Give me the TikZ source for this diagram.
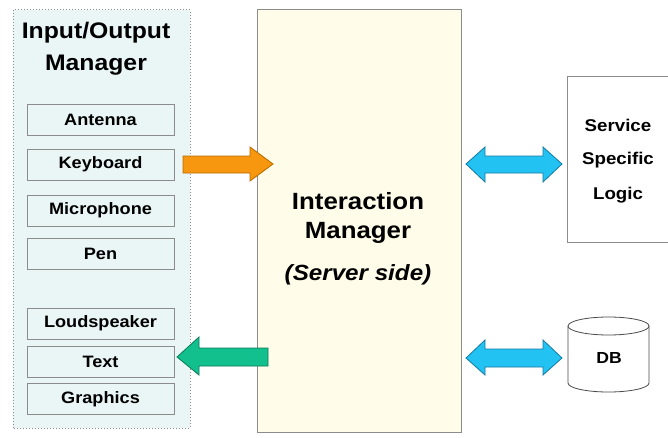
\documentclass[tikz,border=0pt]{standalone}
\usepackage{fontspec}
\setmainfont[FakeStretch=1.1]{Liberation Sans}
\usetikzlibrary{calc}
\definecolor{iofill}{HTML}{EAF6F6}
\definecolor{imfill}{HTML}{FFFDE9}
\definecolor{frame}{HTML}{8C8C8C}
\definecolor{orangeA}{HTML}{F7960F}
\definecolor{orangeE}{HTML}{B86A00}
\definecolor{greenA}{HTML}{12C08E}
\definecolor{greenE}{HTML}{0A7A58}
\definecolor{blueA}{HTML}{22C3F2}
\definecolor{blueE}{HTML}{1579A0}
\tikzset{
  x=1pt, y=1pt,
  itembox/.style={draw=frame, fill=iofill, line width=0.9pt, minimum width=147pt, minimum height=31pt, inner sep=0pt, font=\fontsize{16.5}{18}\selectfont\bfseries},
  bigtext/.style={font=\fontsize{22.5}{26}\selectfont\bfseries},
  midtext/.style={font=\fontsize{17}{20}\selectfont\bfseries},
  fatarrow/.style={line width=0.8pt, line join=miter},
}
\begin{document}
\begin{tikzpicture}
\useasboundingbox (0,0) rectangle (668,437);
\fill[white] (0,0) rectangle (668,437);

% Input/Output manager panel
\draw[frame, fill=iofill, dotted, line width=1pt] (13,9) rectangle (190,427);
\node[bigtext] (iot1) at (96,404) {Input/Output};
\node[bigtext] (iot2) at (96,372) {Manager};
\node[itembox] (ant) at (100.5,317) {Antenna};
\node[itembox] (key) at (100.5,272.5) {Keyboard};
\node[itembox] (mic) at (100.5,226.5) {Microphone};
\node[itembox] (pen) at (100.5,183) {Pen};
\node[itembox] (ls)  at (100.5,113.5) {Loudspeaker};
\node[itembox] (txt) at (100.5,75.5) {Text};
\node[itembox] (gfx) at (100.5,38) {Graphics};

% Interaction manager
\draw[frame, fill=imfill, line width=0.9pt] (257,5) rectangle (461,428);
\node[font=\fontsize{23.5}{26}\selectfont\bfseries] (im1) at (358,236) {Interaction};
\node[font=\fontsize{23.5}{26}\selectfont\bfseries] (im2) at (358,204) {Manager};
\node[font=\fontsize{22}{26}\selectfont\bfseries\itshape] (im3) at (358,162) {(Server side)};

% Service specific logic
\draw[frame, fill=white, line width=0.9pt] (567,195) rectangle (672,361);
\node[midtext] (s1) at (618,312) {Service};
\node[midtext] (s2) at (618,277) {Specific};
\node[midtext] (s3) at (618,242) {Logic};

% Database cylinder
\draw[black!70, fill=white, line width=0.8pt]
  (568,111) -- (568,54) arc[start angle=180, end angle=360, x radius=40.5, y radius=9]
  -- (649,111);
\draw[black!70, fill=white, line width=0.8pt] (608.5,111) ellipse[x radius=40.5, y radius=9];
\node[font=\fontsize{16}{18}\selectfont\bfseries] (db) at (609,79) {DB};

% Input arrow (orange)
\draw[fatarrow, draw=orangeE, fill=orangeA]
  (183,264) -- (250,264) -- (250,256) -- (273,273) -- (250,290) -- (250,281) -- (183,281) -- cycle;

% Output arrow (green)
\draw[fatarrow, draw=greenE, fill=greenA]
  (268,71) -- (199,71) -- (199,62) -- (177,80) -- (199,100) -- (199,89) -- (268,89) -- cycle;

% Logic link (blue, both ways)
\draw[fatarrow, draw=blueE, fill=blueA]
  (466,273) -- (485,290) -- (485,281) -- (543,281) -- (543,290) -- (562,273)
  -- (543,255) -- (543,264) -- (485,264) -- (485,255) -- cycle;

% Database link (blue, both ways)
\draw[fatarrow, draw=blueE, fill=blueA]
  (466,79) -- (485,97) -- (485,88) -- (543,88) -- (543,97) -- (562,79)
  -- (543,62) -- (543,70) -- (485,70) -- (485,62) -- cycle;
\end{tikzpicture}
\end{document}
